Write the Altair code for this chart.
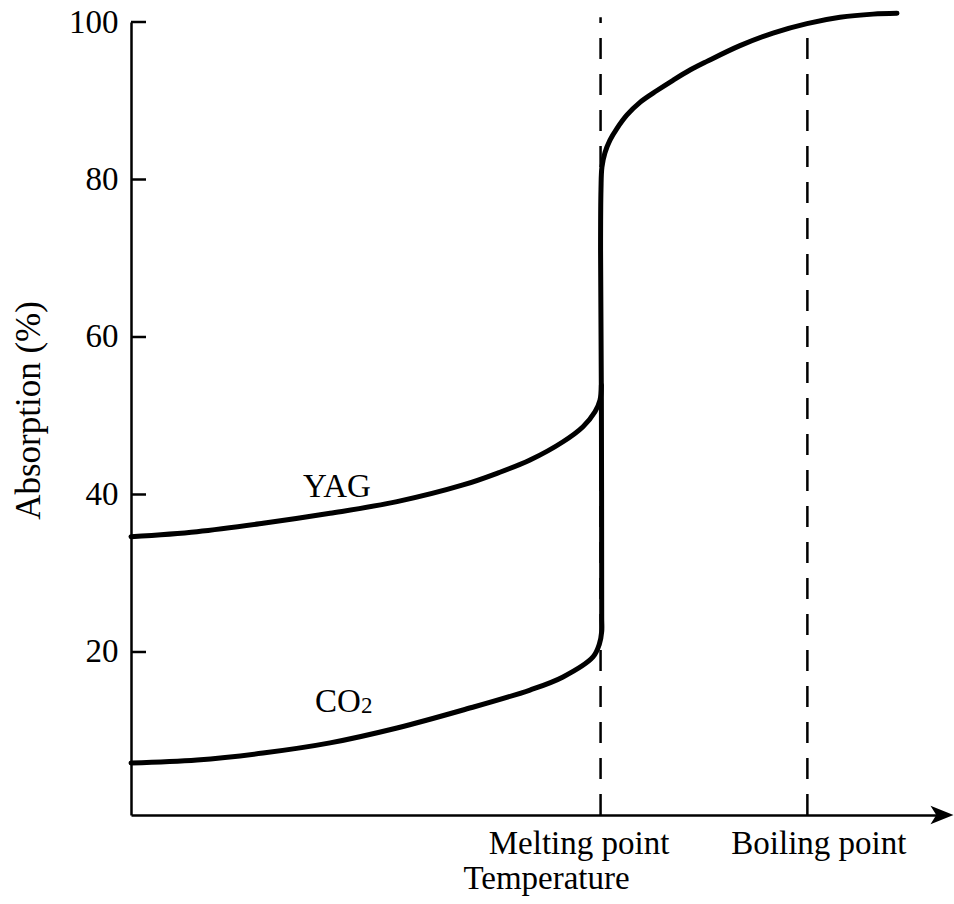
import altair as alt
import pandas as pd

# ---- data (temperature in arbitrary units 0-100, absorption in %) ----
Y_MIN = -0.7
Y_MAX = 100
X_MAX = 100

yag_t = [0.0, 8.14, 16.28, 24.54, 32.80, 40.94, 45.13, 49.20, 53.27, 55.73, 57.21, 57.83, 58.0]
yag_v = [34.64, 35.28, 36.34, 37.61, 39.09, 41.21, 42.69, 44.38, 46.70, 48.61, 50.51, 52.0, 53.9]

co2_t = [0.0, 8.14, 16.28, 24.54, 32.80, 40.94, 49.20, 53.27, 56.97, 57.75, 58.04, 58.04,
         58.0, 57.9, 57.95, 58.07, 58.44, 59.06, 59.93, 61.16, 62.76, 64.86,
         66.83, 68.93, 71.02, 75.09, 79.16, 83.35, 87.42, 91.49, 94.45]
co2_v = [5.90, 6.29, 7.17, 8.46, 10.35, 12.63, 15.17, 16.83, 19.37, 21.0, 22.6, 24.44,
         52.0, 71.0, 78.7, 81.6, 83.4, 85.0, 86.5, 88.2, 89.8, 91.3,
         92.6, 93.9, 95.0, 97.0, 98.6, 99.8, 100.6, 101.0, 101.1]

mark_names = ["Melting point", "Boiling point"]
mark_t = [57.9, 83.4]
mark_top = [100.6, 98.7]

y_ticks = [20, 40, 60, 80, 100]

yag_label = {"text": "YAG", "t": 25.4, "v": 39.7}
co2_label = {"text": "CO", "t": 22.7, "v": 12.4}

# ---- tables ----
curves = pd.DataFrame(
    [{"series": "YAG", "i": i, "t": t, "v": v} for i, (t, v) in enumerate(zip(yag_t, yag_v))]
    + [{"series": "CO2", "i": i, "t": t, "v": v} for i, (t, v) in enumerate(zip(co2_t, co2_v))]
)
dashes = pd.DataFrame({"name": mark_names, "t": mark_t, "v": mark_top, "v0": [Y_MIN] * 2})
ticks = pd.DataFrame({"v": y_ticks})
arrow = pd.DataFrame({"t": [X_MAX], "v": [Y_MIN]})

FONT = "Liberation Serif"

xs = alt.Scale(domain=[0, X_MAX], nice=False, zero=False)
ys = alt.Scale(domain=[Y_MIN, Y_MAX], nice=False, zero=False)

xaxis = alt.Axis(
    title="Temperature",
    values=mark_t,
    labelExpr="datum.value < 70 ? 'Melting point' : 'Boiling point'",
    labelOffset={"condition": {"test": "datum.value < 70", "value": -22}, "value": 11},
    labelBaseline="alphabetic",
    labelPadding=38,
    labelLimit=0,
    labelFont=FONT, labelFontSize=33, labelColor="black",
    labelFlush=False, labelOverlap=False,
    ticks=False, tickSize=0, grid=False,
    domainColor="black", domainWidth=2.5,
    titleFont=FONT, titleFontSize=33, titleFontWeight="normal", titleColor="black",
    titleX=415, titleY=73, titleAlign="center", titleBaseline="alphabetic",
)
yaxis = alt.Axis(
    title="Absorption (%)",
    values=y_ticks,
    labelFont=FONT, labelFontSize=33, labelColor="black", labelPadding=13,
    ticks=False, tickSize=0, grid=False,
    domainColor="black", domainWidth=2.5,
    titleFont=FONT, titleFontSize=35, titleFontWeight="normal", titleColor="black",
    titleAngle=270, titleX=-103, titleY=388, titleAlign="center", titleBaseline="middle",
)

X = lambda f: alt.X(f, type="quantitative", scale=xs, axis=xaxis)
Y = lambda f: alt.Y(f, type="quantitative", scale=ys, axis=yaxis)

lines = alt.Chart(curves).mark_line(
    color="black", strokeWidth=5, interpolate="catmull-rom", strokeCap="round", strokeJoin="round"
).encode(x=X("t"), y=Y("v"), detail="series:N", order="i:Q")

dash = alt.Chart(dashes).mark_rule(color="black", strokeWidth=2.5, strokeDash=[21, 15]).encode(
    x=X("t"), y=Y("v0"), y2="v"
)

ytick = alt.Chart(ticks).mark_rule(color="black", strokeWidth=2.5).encode(
    y=Y("v"), x=alt.value(0), x2=alt.value(15)
)

arrowhead = alt.Chart(arrow).mark_point(
    shape="M1,0 L-1,-0.8 L-0.5,0 L-1,0.8 Z", size=529, filled=True, color="black", opacity=1, strokeWidth=0
).encode(x=X("t"), y=Y("v"))

lab_yag = alt.Chart(pd.DataFrame([yag_label])).mark_text(
    font=FONT, fontSize=33, color="black", baseline="alphabetic", align="center"
).encode(x=X("t"), y=Y("v"), text="text:N")

lab_co = alt.Chart(pd.DataFrame([co2_label])).mark_text(
    font=FONT, fontSize=33, color="black", baseline="alphabetic", align="left"
).encode(x=X("t"), y=Y("v"), text="text:N")

sub2 = alt.Chart(pd.DataFrame([co2_label])).mark_text(
    font=FONT, fontSize=23, color="black", baseline="alphabetic", align="left", dx=46, dy=1
).encode(x=X("t"), y=Y("v"), text=alt.value("2"))

chart = alt.layer(lines, dash, ytick, arrowhead, lab_yag, lab_co, sub2).properties(
    width=811, height=793,
    autosize=alt.AutoSizeParams(type="none"),
    padding={"left": 131, "top": 22, "right": 12, "bottom": 89},
    background="white",
).configure_view(stroke=None)

chart.save("out.html", embed_options={"renderer": "svg", "actions": False})
